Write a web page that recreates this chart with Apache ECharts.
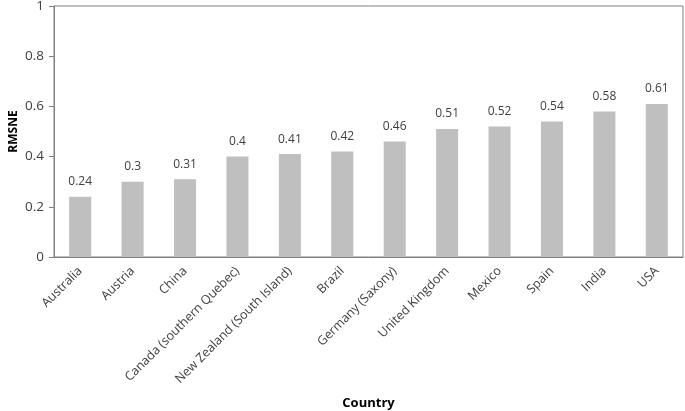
<!DOCTYPE html>
<html><head><meta charset="utf-8">
<script src="https://cdn.jsdelivr.net/npm/echarts@6/dist/echarts.min.js"></script>
<style>html,body{margin:0;padding:0;background:#fff}#c{width:685px;height:411px}</style>
</head><body><div id="c"></div>
<script>
const categories = ["Australia","Austria","China","Canada (southern Quebec)","New Zealand (South Island)","Brazil","Germany (Saxony)","United Kingdom","Mexico","Spain","India","USA"];
const rmsne = [0.24,0.3,0.31,0.4,0.41,0.42,0.46,0.51,0.52,0.54,0.58,0.61];
const yTicks = [0,0.2,0.4,0.6,0.8,1];
const font = "Open Sans";
const chart = echarts.init(document.getElementById('c'));
chart.setOption({
  animation:false,
  grid:{left:54,right:2,top:6,bottom:154,outerBoundsMode:'none',containLabel:false,show:true,borderColor:'#808080',borderWidth:1,backgroundColor:'transparent'},
  xAxis:{type:'category',data:categories,name:'Country',nameLocation:'middle',nameGap:146,nameMoveOverlap:false,
    nameTextStyle:{fontFamily:font,fontWeight:'bold',fontSize:13,color:'#000',verticalAlign:'middle'},
    axisLine:{lineStyle:{color:'#808080'}},axisTick:{length:5,lineStyle:{color:'#808080'}},
    axisLabel:{rotate:45,interval:0,fontFamily:font,fontSize:12.5,color:'#404040',margin:12}},
  yAxis:{type:'value',min:0,max:1,interval:0.2,name:'RMSNE',nameLocation:'middle',nameGap:40,nameMoveOverlap:false,
    nameTextStyle:{fontFamily:font,fontWeight:'bold',fontSize:12,color:'#000',verticalAlign:'middle'},
    splitLine:{show:false},axisLine:{show:true,lineStyle:{color:'#808080'}},
    axisTick:{show:true,length:5,lineStyle:{color:'#808080'}},
    axisLabel:{fontFamily:font,fontSize:13.5,color:'#404040',margin:10,
      formatter:v=>{const t=yTicks.find(x=>Math.abs(x-v)<1e-9);return String(t!==undefined?t:v);}}},
  series:[{type:'bar',data:rmsne,barWidth:'42%',itemStyle:{color:'#bfbfbf'},
    label:{show:true,position:'top',distance:9,fontFamily:font,fontSize:12,color:'#404040'}}]
});
</script></body></html>
